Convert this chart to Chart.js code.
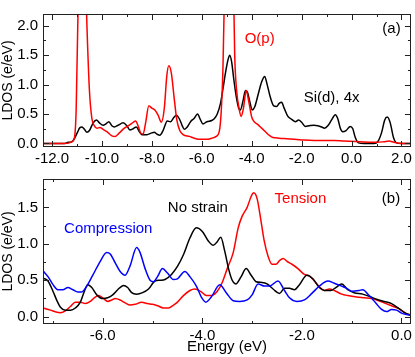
<!DOCTYPE html>
<html>
<head>
<meta charset="utf-8">
<script src="https://cdn.jsdelivr.net/npm/chart.js@4/dist/chart.umd.min.js"></script>
<style>
  html, body { margin: 0; padding: 0; background: #fff; }
  #wrap { position: relative; width: 415px; height: 357px; }
  #topBox { position: absolute; left: 0; top: 0; width: 415px; height: 172px; }
  #botBox { position: absolute; left: 0; top: 165px; width: 415px; height: 192px; }
</style>
</head>
<body>
<div id="wrap">
  <div id="botBox"><canvas id="bottomChart"></canvas></div>
  <div id="topBox"><canvas id="topChart"></canvas></div>
</div>
<script>
/* Panel (a): O(p) and Si(d) x4 LDOS */
const opEnergy = [-12.4, -11.5, -11.3, -11.2, -11.1, -11.03, -10.95, -10.82, -10.68, -10.6, -10.5, -10.4, -10.3, -10.2, -10.08, -9.95, -9.8, -9.6, -9.47, -9.3, -9.1, -8.9, -8.75, -8.65, -8.55, -8.45, -8.35, -8.25, -8.12, -8.0, -7.88, -7.75, -7.62, -7.5, -7.4, -7.32, -7.22, -7.1, -7.0, -6.88, -6.75, -6.5, -6.3, -6.08, -5.8, -5.6, -5.42, -5.3, -5.22, -5.15, -5.08, -4.95, -4.85, -4.75, -4.68, -4.61, -4.5, -4.42, -4.33, -4.22, -4.12, -4.0, -3.9, -3.75, -3.6, -3.45, -3.3, -3.15, -2.9, -2.6, -2.3, -2.0, -1.5, -1.0, -0.7, -0.3, 0.3, 1.0, 1.3, 1.5, 1.7, 2.0, 2.4];
const opLdos = [0, 0, 0.01, 0.03, 0.1, 0.6, 2.4, 4.0, 3.2, 2.0, 0.9, 0.42, 0.3, 0.26, 0.27, 0.24, 0.2, 0.13, 0.12, 0.18, 0.26, 0.31, 0.36, 0.38, 0.3, 0.18, 0.16, 0.35, 0.64, 0.6, 0.57, 0.48, 0.36, 0.6, 1.15, 1.32, 1.2, 0.75, 0.4, 0.22, 0.15, 0.12, 0.09, 0.07, 0.07, 0.09, 0.12, 0.2, 0.55, 1.3, 2.8, 4.5, 4.5, 3.2, 1.5, 0.93, 0.58, 0.46, 0.6, 0.9, 0.72, 0.45, 0.37, 0.32, 0.26, 0.2, 0.14, 0.1, 0.09, 0.08, 0.07, 0.06, 0.05, 0.05, 0.05, 0.04, 0.03, 0.02, 0.03, 0.04, 0.02, 0.0, 0.0];

const sidEnergy = [-12.4, -11.5, -11.35, -11.25, -11.15, -11.0, -10.88, -10.8, -10.7, -10.6, -10.5, -10.35, -10.22, -10.1, -9.95, -9.85, -9.72, -9.6, -9.5, -9.35, -9.15, -9.0, -8.88, -8.75, -8.62, -8.5, -8.4, -8.2, -8.0, -7.9, -7.8, -7.68, -7.55, -7.38, -7.25, -7.12, -7.02, -6.9, -6.78, -6.7, -6.6, -6.45, -6.3, -6.17, -6.05, -5.95, -5.8, -5.6, -5.5, -5.38, -5.25, -5.15, -5.05, -4.95, -4.88, -4.8, -4.72, -4.62, -4.52, -4.45, -4.35, -4.25, -4.18, -4.08, -3.98, -3.88, -3.75, -3.6, -3.48, -3.38, -3.25, -3.12, -3.0, -2.9, -2.8, -2.7, -2.55, -2.4, -2.25, -2.12, -2.0, -1.85, -1.7, -1.5, -1.35, -1.2, -1.08, -0.95, -0.8, -0.65, -0.55, -0.45, -0.35, -0.22, -0.05, 0.05, 0.15, 0.28, 0.5, 0.9, 1.05, 1.2, 1.33, 1.43, 1.55, 1.68, 1.8, 2.0, 2.4];
const sidLdos = [0, 0, 0.02, 0.02, 0.05, 0.17, 0.27, 0.28, 0.24, 0.19, 0.22, 0.35, 0.4, 0.35, 0.31, 0.33, 0.37, 0.3, 0.28, 0.31, 0.35, 0.3, 0.23, 0.25, 0.28, 0.2, 0.15, 0.15, 0.18, 0.19, 0.16, 0.14, 0.22, 0.38, 0.37, 0.44, 0.48, 0.42, 0.3, 0.24, 0.27, 0.37, 0.43, 0.5, 0.4, 0.33, 0.37, 0.39, 0.42, 0.5, 0.68, 0.93, 1.2, 1.42, 1.5, 1.38, 1.1, 0.8, 0.6, 0.57, 0.72, 0.9, 0.88, 0.72, 0.57, 0.62, 0.82, 1.05, 1.14, 1.0, 0.78, 0.64, 0.63, 0.68, 0.7, 0.6, 0.46, 0.41, 0.37, 0.4, 0.36, 0.29, 0.3, 0.31, 0.3, 0.28, 0.26, 0.3, 0.4, 0.49, 0.42, 0.26, 0.2, 0.22, 0.29, 0.25, 0.1, 0.01, 0.0, 0.0, 0.03, 0.18, 0.4, 0.45, 0.35, 0.1, 0.01, 0.0, 0.0];

/* Panel (b): strain series */
const compEnergy = [-7.2, -7.1, -7.0, -6.9, -6.8, -6.7, -6.6, -6.5, -6.42, -6.33, -6.2, -6.05, -5.92, -5.85, -5.75, -5.65, -5.55, -5.45, -5.32, -5.25, -5.15, -5.05, -4.98, -4.9, -4.8, -4.7, -4.58, -4.5, -4.35, -4.25, -4.12, -4.02, -3.93, -3.82, -3.65, -3.52, -3.38, -3.25, -3.1, -3.0, -2.88, -2.75, -2.65, -2.48, -2.35, -2.25, -2.1, -1.95, -1.8, -1.65, -1.48, -1.35, -1.2, -1.1, -1.0, -0.85, -0.78, -0.65, -0.52, -0.4, -0.3, -0.2, -0.1, 0.0, 0.1, 0.2];
const compLdos = [0.63, 0.55, 0.44, 0.37, 0.37, 0.4, 0.37, 0.34, 0.34, 0.41, 0.57, 0.76, 0.88, 0.86, 0.74, 0.62, 0.57, 0.7, 0.95, 0.88, 0.66, 0.5, 0.48, 0.55, 0.66, 0.6, 0.51, 0.52, 0.62, 0.55, 0.42, 0.27, 0.2, 0.27, 0.44, 0.33, 0.22, 0.21, 0.23, 0.3, 0.45, 0.42, 0.42, 0.49, 0.36, 0.26, 0.21, 0.23, 0.32, 0.42, 0.49, 0.46, 0.42, 0.39, 0.35, 0.36, 0.37, 0.29, 0.19, 0.1, 0.07, 0.1, 0.09, 0.05, 0.03, 0.02];

const noStrainEnergy = [-7.2, -7.1, -7.0, -6.92, -6.85, -6.75, -6.65, -6.55, -6.45, -6.38, -6.3, -6.22, -6.12, -6.0, -5.9, -5.8, -5.7, -5.58, -5.5, -5.42, -5.32, -5.2, -5.08, -4.95, -4.85, -4.75, -4.62, -4.5, -4.38, -4.25, -4.12, -4.0, -3.88, -3.78, -3.7, -3.63, -3.55, -3.47, -3.4, -3.33, -3.22, -3.12, -3.02, -2.92, -2.8, -2.7, -2.58, -2.45, -2.35, -2.25, -2.15, -2.05, -1.9, -1.78, -1.65, -1.55, -1.42, -1.32, -1.2, -1.08, -0.95, -0.78, -0.65, -0.5, -0.35, -0.2, -0.05, 0.1, 0.2];
const noStrainLdos = [0.53, 0.49, 0.35, 0.22, 0.13, 0.09, 0.09, 0.12, 0.2, 0.33, 0.44, 0.4, 0.3, 0.25, 0.26, 0.3, 0.37, 0.43, 0.4, 0.33, 0.31, 0.33, 0.38, 0.49, 0.5, 0.51, 0.58, 0.69, 0.85, 1.08, 1.22, 1.17, 1.04, 0.98, 1.03, 1.09, 0.9, 0.65, 0.5, 0.45, 0.55, 0.66, 0.57, 0.48, 0.47, 0.45, 0.38, 0.32, 0.39, 0.39, 0.37, 0.44, 0.57, 0.52, 0.4, 0.36, 0.36, 0.4, 0.45, 0.37, 0.33, 0.31, 0.28, 0.24, 0.21, 0.18, 0.11, 0.04, 0.02];

const tensionEnergy = [-7.2, -7.05, -6.92, -6.85, -6.75, -6.65, -6.55, -6.45, -6.35, -6.25, -6.15, -6.08, -6.0, -5.9, -5.82, -5.75, -5.65, -5.55, -5.45, -5.35, -5.22, -5.1, -5.0, -4.9, -4.78, -4.68, -4.58, -4.5, -4.38, -4.25, -4.15, -4.02, -3.92, -3.82, -3.7, -3.6, -3.5, -3.38, -3.28, -3.2, -3.1, -3.02, -2.97, -2.9, -2.83, -2.76, -2.68, -2.6, -2.52, -2.45, -2.38, -2.3, -2.2, -2.08, -1.95, -1.85, -1.75, -1.65, -1.55, -1.45, -1.35, -1.2, -1.08, -0.9, -0.75, -0.6, -0.5, -0.35, -0.2, -0.05, 0.1, 0.2];
const tensionLdos = [0.12, 0.09, 0.06, 0.055, 0.08, 0.14, 0.2, 0.2, 0.18, 0.21, 0.27, 0.29, 0.26, 0.21, 0.23, 0.25, 0.23, 0.19, 0.16, 0.17, 0.2, 0.18, 0.17, 0.15, 0.12, 0.12, 0.16, 0.2, 0.29, 0.36, 0.38, 0.34, 0.29, 0.29, 0.35, 0.47, 0.66, 0.88, 1.22, 1.38, 1.5, 1.65, 1.7, 1.62, 1.35, 1.05, 0.83, 0.72, 0.72, 0.77, 0.8, 0.76, 0.72, 0.66, 0.58, 0.56, 0.49, 0.41, 0.36, 0.38, 0.36, 0.31, 0.29, 0.27, 0.26, 0.25, 0.23, 0.19, 0.15, 0.11, 0.04, 0.02];

const FONT = "'Liberation Sans', Arial, sans-serif";

function pts(xs, ys) {
  return xs.map((x, i) => ({ x: x, y: ys[i] }));
}

function series(xs, ys, color) {
  return {
    data: pts(xs, ys),
    borderColor: color,
    borderWidth: 1.5,
    pointRadius: 0,
    cubicInterpolationMode: "monotone",
    fill: false,
  };
}

// frame + inward ticks on all four sides, plus the in-plot labels
const framePlugin = {
  id: "frame",
  afterDraw(chart, args, opts) {
    const { ctx, chartArea: a, scales } = chart;
    const x = scales.x, y = scales.y;
    ctx.save();
    ctx.strokeStyle = "#222";
    ctx.lineWidth = 1;
    ctx.strokeRect(Math.round(a.left) + 0.5, Math.round(a.top) + 0.5, Math.round(a.width) - 1, Math.round(a.height) - 1);
    ctx.beginPath();
    const doTicks = (scale, minor, every, horiz) => {
      const k0 = Math.ceil(scale.min / minor - 1e-6), k1 = Math.floor(scale.max / minor + 1e-6);
      for (let k = k0; k <= k1; k++) {
        const p = Math.round(scale.getPixelForValue(k * minor)) + 0.5;
        const len = k % every === 0 ? 6 : 3;
        if (horiz) {
          ctx.moveTo(p, a.bottom); ctx.lineTo(p, a.bottom - len);
          ctx.moveTo(p, a.top); ctx.lineTo(p, a.top + len);
        } else {
          ctx.moveTo(a.left, p); ctx.lineTo(a.left + len, p);
          ctx.moveTo(a.right, p); ctx.lineTo(a.right - len, p);
        }
      }
    };
    doTicks(x, opts.xMinor, 2, true);
    doTicks(y, opts.yMinor, 2, false);
    ctx.stroke();
    ctx.font = "15px " + FONT;
    ctx.textAlign = "center";
    ctx.textBaseline = "middle";
    (opts.labels || []).forEach((l) => {
      ctx.fillStyle = l.color;
      ctx.fillText(l.text, x.getPixelForValue(l.x), y.getPixelForValue(l.y));
    });
    ctx.restore();
  },
};

function panel(canvasId, datasets, xr, yr, pad, xHeight, xTitle, labels) {
  return new Chart(document.getElementById(canvasId), {
    type: "line",
    data: { datasets: datasets },
    plugins: [framePlugin],
    options: {
      responsive: true,
      maintainAspectRatio: false,
      animation: false,
      layout: { padding: pad },
      plugins: {
        legend: { display: false },
        tooltip: { enabled: false },
        frame: { xMinor: xr.minor, yMinor: yr.minor, labels: labels },
      },
      scales: {
        x: {
          type: "linear",
          min: xr.min,
          max: xr.max,
          grid: { display: false, drawTicks: false },
          border: { display: false },
          ticks: {
            stepSize: 2,
            includeBounds: false,
            maxRotation: 0,
            padding: 3,
            color: "#000",
            font: { family: FONT, size: 15 },
            callback: (v) => v.toFixed(1),
          },
          title: {
            display: !!xTitle,
            text: xTitle,
            color: "#000",
            font: { family: FONT, size: 15 },
            padding: { top: 0, bottom: 1 },
          },
          afterFit: (s) => { s.height = xHeight; },
        },
        y: {
          min: yr.min,
          max: yr.max,
          grid: { display: false, drawTicks: false },
          border: { display: false },
          ticks: {
            stepSize: 0.5,
            includeBounds: false,
            padding: 5,
            color: "#000",
            font: { family: FONT, size: 15 },
            callback: (v) => v.toFixed(1),
          },
          title: {
            display: true,
            text: "LDOS (e/eV)",
            color: "#000",
            font: { family: FONT, size: 14 },
            padding: { top: 0, bottom: 0 },
          },
          afterFit: (s) => { s.width = 43; },
        },
      },
    },
  });
}

panel(
  "topChart",
  [series(opEnergy, opLdos, "#ff0000"), series(sidEnergy, sidLdos, "#000000")],
  { min: -12.36, max: 2.38, minor: 1 },
  { min: -0.06, max: 2.2, minor: 0.25 },
  { left: 0, right: 4, top: 3, bottom: 0 },
  25,
  "",
  [
    { text: "O(p)", x: -3.68, y: 1.77, color: "#ff0000" },
    { text: "(a)", x: 1.6, y: 1.95, color: "#000000" },
    { text: "Si(d), 4x", x: -0.8, y: 0.78, color: "#000000" },
  ]
);

panel(
  "bottomChart",
  [series(compEnergy, compLdos, "#0000ff"), series(noStrainEnergy, noStrainLdos, "#000000"), series(tensionEnergy, tensionLdos, "#ff0000")],
  { min: -7.2, max: 0.19, minor: 1 },
  { min: -0.1, max: 1.89, minor: 0.25 },
  { left: 0, right: 3, top: 12, bottom: 0 },
  33,
  "Energy (eV)",
  [
    { text: "(b)", x: -0.21, y: 1.62, color: "#000000" },
    { text: "Tension", x: -2.03, y: 1.62, color: "#ff0000" },
    { text: "No strain", x: -4.09, y: 1.49, color: "#000000" },
    { text: "Compression", x: -5.89, y: 1.21, color: "#0000ff" },
  ]
);
</script>
</body>
</html>
